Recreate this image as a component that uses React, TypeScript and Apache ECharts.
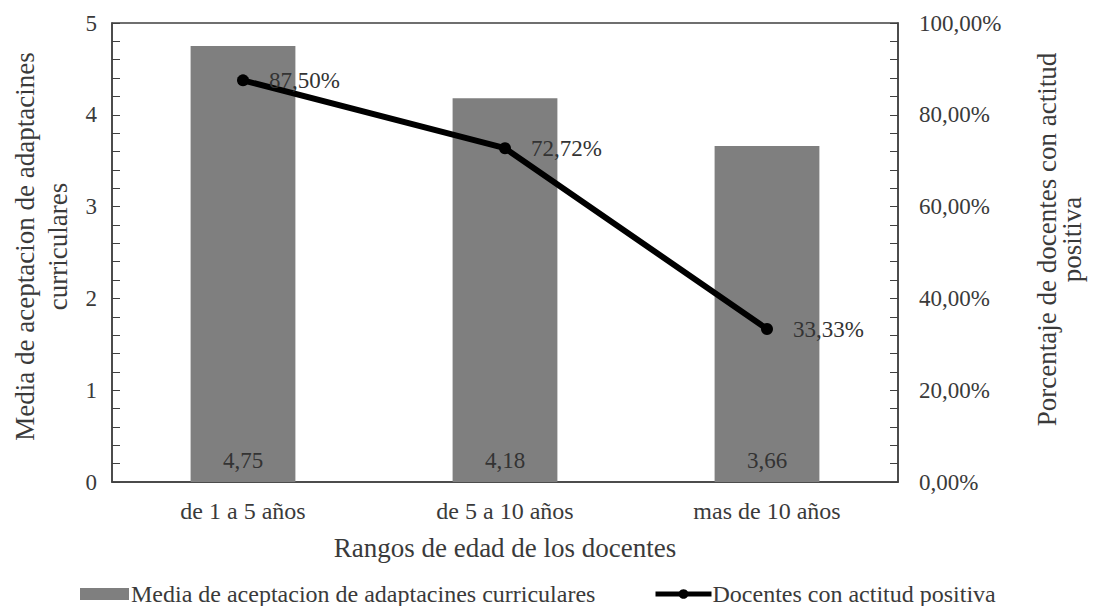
import React, { useEffect, useRef } from "react";
import * as echarts from "echarts";

const categories = ["de 1 a 5 años", "de 5 a 10 años", "mas de 10 años"];
const mediaValues = [4.75, 4.18, 3.66];
const porcentajeValues = [0.875, 0.7272, 0.3333];
const seriesNames = [
  "Media de aceptacion de adaptacines curriculares",
  "Docentes con actitud positiva",
];
const leftAxisTitle = "Media de aceptacion de adaptacines\ncurriculares";
const rightAxisTitle = "Porcentaje de docentes con actitud\npositiva";
const xAxisTitle = "Rangos de edad de los docentes";

const FONT = "Liberation Serif";
const TXT = "#3a3a3a";
const AXIS = "#404040";

const pct = (v: number) => (v * 100).toFixed(2).replace(".", ",") + "%";

export default function App() {
  const ref = useRef<HTMLDivElement>(null);
  useEffect(() => {
    if (!ref.current) return;
    const chart = echarts.init(ref.current, undefined, { renderer: "svg" });
    chart.setOption({
      animation: false,
      backgroundColor: "#ffffff",
      textStyle: { fontFamily: FONT },
      grid: {
        left: 107,
        right: 188,
        top: 23,
        bottom: 124,
        show: true,
        borderColor: AXIS,
        borderWidth: 1.5,
        backgroundColor: "transparent",
      },
      legend: [
        {
          data: [seriesNames[0]],
          left: 75,
          top: 577,
          itemWidth: 49,
          itemHeight: 12,
          icon: "rect",
          textStyle: { fontFamily: FONT, fontSize: 24, color: TXT, padding: [0, 0, 0, -3] },
        },
        {
          data: [seriesNames[1]],
          left: 648,
          top: 577,
          itemWidth: 56,
          itemHeight: 12,
          lineStyle: { width: 5 },
          textStyle: { fontFamily: FONT, fontSize: 24, color: TXT, padding: [0, 0, 0, -4] },
        },
      ],
      xAxis: {
        type: "category",
        data: categories,
        name: xAxisTitle,
        nameLocation: "middle",
        nameGap: 52,
        nameTextStyle: { fontFamily: FONT, fontSize: 27, color: TXT },
        axisLine: { show: true, lineStyle: { color: AXIS, width: 1.5 } },
        axisTick: { show: false },
        axisLabel: { fontFamily: FONT, fontSize: 24, color: TXT, margin: 17 },
      },
      yAxis: [
        {
          type: "value",
          min: 0,
          max: 5,
          interval: 1,
          name: leftAxisTitle,
          nameLocation: "middle",
          nameGap: 38,
          nameTextStyle: {
            fontFamily: FONT,
            fontSize: 27,
            color: TXT,
            lineHeight: 33,
            padding: [0, 0, 0, 12],
          },
          axisLine: { show: true, lineStyle: { color: AXIS, width: 1.5 } },
          axisTick: { show: true, inside: true, length: 8, lineStyle: { color: AXIS } },
          minorTick: { show: true, splitNumber: 5, length: 8, lineStyle: { color: AXIS } },
          splitLine: { show: false },
          axisLabel: { fontFamily: FONT, fontSize: 23, color: TXT, margin: 15 },
        },
        {
          type: "value",
          min: 0,
          max: 1,
          interval: 0.2,
          position: "right",
          name: rightAxisTitle,
          nameLocation: "middle",
          nameGap: 136,
          nameTextStyle: {
            fontFamily: FONT,
            fontSize: 27,
            color: TXT,
            lineHeight: 25,
            padding: [0, 0, 0, 26],
          },
          axisLine: { show: true, lineStyle: { color: AXIS, width: 1.5 } },
          axisTick: { show: true, inside: true, length: 8, lineStyle: { color: AXIS } },
          minorTick: { show: true, splitNumber: 5, length: 8, lineStyle: { color: AXIS } },
          splitLine: { show: false },
          axisLabel: {
            fontFamily: FONT,
            fontSize: 23,
            color: TXT,
            margin: 21,
            formatter: (v: number) => pct(v),
          },
        },
      ],
      series: [
        {
          name: seriesNames[0],
          type: "bar",
          data: mediaValues,
          barWidth: "40%",
          itemStyle: { color: "#7f7f7f" },
          label: {
            show: true,
            position: "insideBottom",
            distance: 10,
            fontFamily: FONT,
            fontSize: 23,
            color: "#333333",
            formatter: (p: any) => Number(p.value).toFixed(2).replace(".", ","),
          },
        },
        {
          name: seriesNames[1],
          type: "line",
          yAxisIndex: 1,
          data: porcentajeValues,
          symbol: "circle",
          symbolSize: 12,
          itemStyle: { color: "#000000" },
          lineStyle: { color: "#000000", width: 6 },
          label: {
            show: true,
            position: "right",
            distance: 20,
            fontFamily: FONT,
            fontSize: 23,
            color: "#333333",
            formatter: (p: any) => pct(Number(p.value)),
          },
        },
      ],
    });
    return () => chart.dispose();
  }, []);
  return (
    <div
      ref={ref}
      style={{ position: "fixed", left: 0, top: 0, width: 1093, height: 606 }}
    />
  );
}
